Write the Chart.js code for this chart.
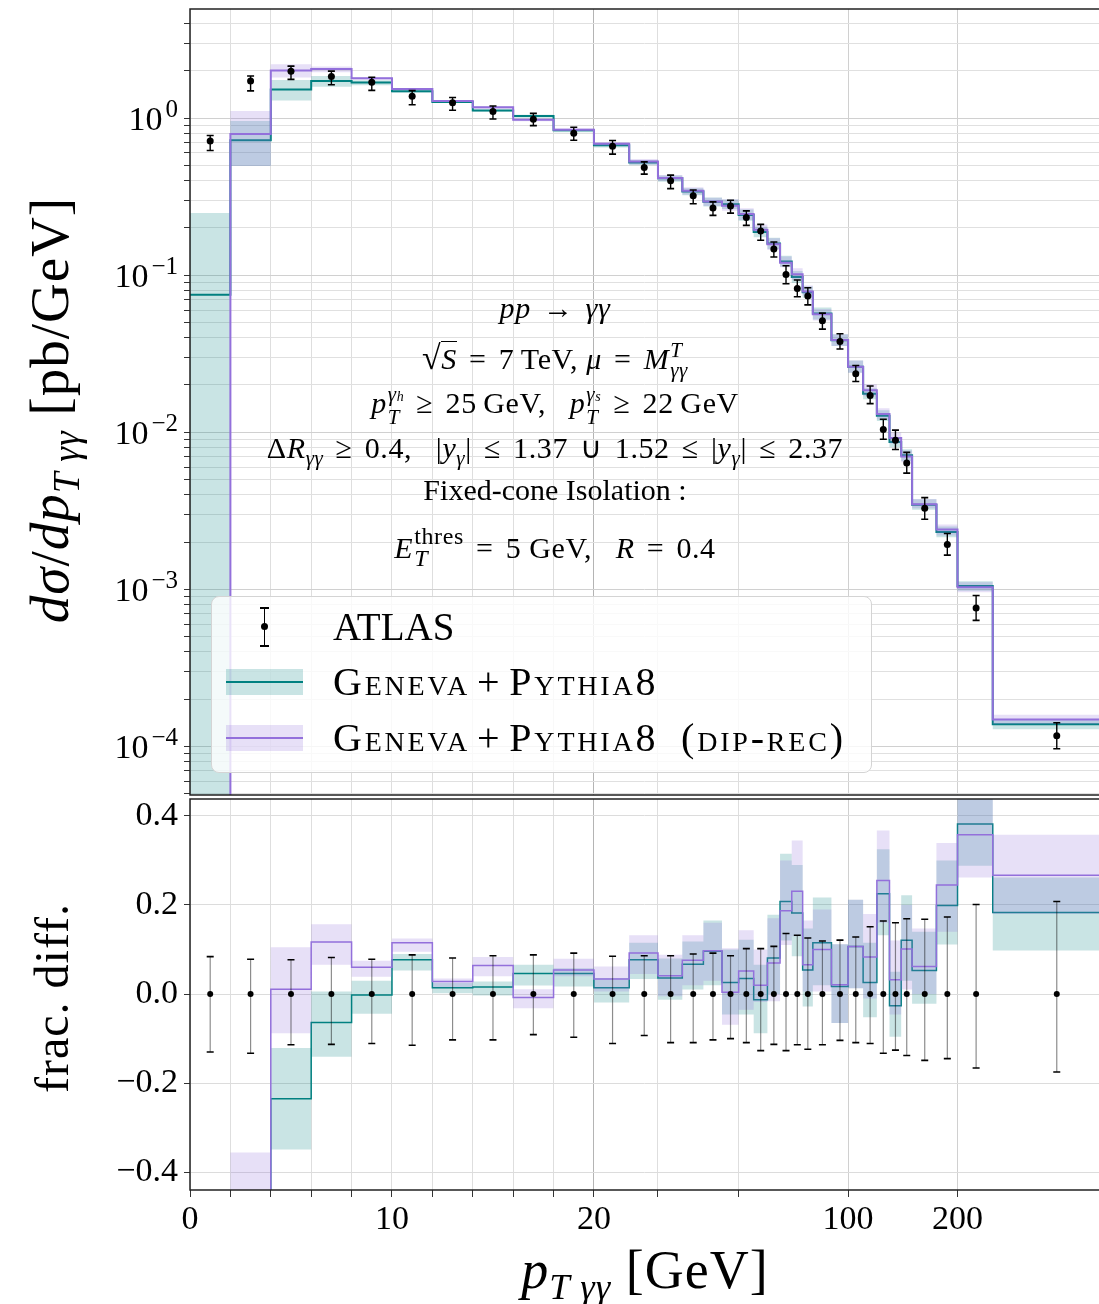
<!DOCTYPE html>
<html>
<head>
<meta charset="utf-8">
<script src="https://cdn.jsdelivr.net/npm/chart.js@4/dist/chart.umd.min.js"></script>
<style>
  html, body { margin: 0; padding: 0; background: #fff; }
  body { width: 1099px; height: 1304px; overflow: hidden; position: relative;
         font-family: 'Liberation Serif', serif; color: #000; }
  canvas { position: absolute; left: 0; }
  #topChart { top: 0; }
  #botChart { top: 797px; }
  .ann { position: absolute; left: 205px; width: 700px; text-align: center;
         font-size: 30px; line-height: 30px; white-space: nowrap; }
  .ann.m { letter-spacing: 0.6px; }
  .ann sub { font-size: 21px; vertical-align: -7px; line-height: 0; }
  .ann .r { padding: 0 4px; }
  .ss { display: inline-flex; flex-direction: column; font-size: 21px; line-height: 20px;
        vertical-align: 12px; margin-left: 1px; text-align: left; }
  .ss small { font-size: 14px; }
  .ovl { border-top: 1.5px solid #000; }
  .sq { font-size: 34px; }
  #legend { position: absolute; left: 211px; top: 596px; width: 659px; height: 175px;
            border: 1px solid #d4d4d4; border-radius: 8px; background: rgba(255,255,255,0.8); }
  #legend .txt { position: absolute; left: 121px; font-size: 39px; line-height: 39px; white-space: nowrap; }
  #legend .sc { font-variant: small-caps; letter-spacing: 2.8px; font-size: 40px; }
  #legend .pl { padding: 0 7px; }
  .sw { position: absolute; left: 14px; width: 77px; height: 26px; }
  .swl { position: absolute; left: 0; right: 0; top: 12px; height: 2px; }
  .eb { position: absolute; background: #000; }
  .title { position: absolute; white-space: nowrap; text-align: center; letter-spacing: 1px; }
  .rot { width: 600px; height: 70px; line-height: 70px; transform: rotate(-90deg); }
  .title sub { font-size: 0.68em; vertical-align: -0.3em; line-height: 0; }
</style>
</head>
<body>
<canvas id="topChart" width="1099" height="797"></canvas>
<canvas id="botChart" width="1099" height="507"></canvas>

<div class="ann m" style="top:293px"><i>pp</i> <span class="r">→</span> <i>γγ</i></div>
<div class="ann m" style="top:340px"><span class="sq">√</span><span class="ovl"><i>S</i></span> <span class="r">=</span> 7&thinsp;TeV, <i>μ</i> <span class="r">=</span> <i>M</i><span class="ss"><i>T</i><i>γγ</i></span></div>
<div class="ann m" style="top:384px"><i>p</i><span class="ss"><i>γ<small>h</small></i><i>T</i></span> <span class="r">≥</span> 25&thinsp;GeV,&ensp; <i>p</i><span class="ss"><i>γ<small>s</small></i><i>T</i></span> <span class="r">≥</span> 22&thinsp;GeV</div>
<div class="ann m" style="top:433px">Δ<i>R</i><sub><i>γγ</i></sub> <span class="r">≥</span> 0.4,&ensp; |<i>y</i><sub><i>γ</i></sub>| <span class="r">≤</span> 1.37 <span class="r">∪</span> 1.52 <span class="r">≤</span> |<i>y</i><sub><i>γ</i></sub>| <span class="r">≤</span> 2.37</div>
<div class="ann" style="top:475px">Fixed-cone Isolation :</div>
<div class="ann m" style="top:525px"><i>E</i><span class="ss" style="font-size:24px;line-height:22px;vertical-align:14px"><span>thres</span><i>T</i></span> <span class="r">=</span> 5 GeV,&ensp; <i>R</i> <span class="r">=</span> 0.4</div>

<div id="legend">
  <div class="eb" style="left:52px; top:10px; width:1px; height:39px"></div>
  <div class="eb" style="left:48px; top:10px; width:9px; height:2px"></div>
  <div class="eb" style="left:48px; top:48px; width:9px; height:2px"></div>
  <div class="eb" style="left:49px; top:26px; width:7px; height:7px; border-radius:50%"></div>
  <div class="txt" style="top:10px">ATLAS</div>
  <div class="sw" id="swGeneva" style="top:72px"><div class="swl"></div></div>
  <div class="txt sc" style="top:65px">Geneva<span class="pl">+</span>Pythia8</div>
  <div class="sw" id="swDip" style="top:128px"><div class="swl"></div></div>
  <div class="txt sc" style="top:121px">Geneva<span class="pl">+</span>Pythia8&ensp;(dip-rec)</div>
</div>

<div class="title rot" style="left:-250px; top:375px; font-size:55px"><i>dσ</i>/<i>dp</i><sub><i>T γγ</i></sub> [pb/GeV]</div>
<div class="title rot" style="left:-248px; top:963px; font-size:48px">frac. diff.</div>
<div class="title" style="left:345px; width:600px; top:1243px; font-size:54px; line-height:54px"><i>p</i><sub><i>T γγ</i></sub> [GeV]</div>

<script>
// bin edges of p_T,γγ [GeV]
const edges = [0, 2, 4, 6, 8, 10, 12, 14, 16, 18, 20, 25, 30, 35, 40, 45, 50, 55, 60, 65, 70, 75, 80,
               90, 100, 110, 120, 130, 140, 150, 175, 200, 250, 500];

// ATLAS data [pb/GeV] and relative errors
const atlas = [0.714, 1.72, 1.99, 1.84, 1.69, 1.375, 1.25, 1.10, 0.985, 0.80,
               0.663, 0.485, 0.399, 0.320, 0.268, 0.276, 0.233, 0.191, 0.147, 0.101, 0.0823, 0.0738, 0.0512, 0.0378,
               0.0236, 0.0171, 0.0104, 0.00889, 0.00637,
               0.00328, 0.00193, 0.00076, 0.000117];
const errUp = [0.084, 0.078, 0.077, 0.082, 0.078, 0.088, 0.081, 0.086, 0.088, 0.092,
               0.085, 0.086, 0.086, 0.090, 0.092, 0.086, 0.102, 0.102, 0.107, 0.136, 0.132, 0.126, 0.119, 0.121,
               0.128, 0.151, 0.164, 0.160, 0.169,
               0.168, 0.173, 0.201, 0.208];
const errDn = [0.130, 0.133, 0.114, 0.113, 0.111, 0.115, 0.103, 0.103, 0.091, 0.097,
               0.111, 0.093, 0.109, 0.109, 0.103, 0.100, 0.109, 0.127, 0.113, 0.127, 0.114, 0.124, 0.114, 0.104,
               0.109, 0.111, 0.133, 0.126, 0.138,
               0.149, 0.145, 0.166, 0.175];

// Geneva + Pythia8: fractional difference to data (central, band low, band high)
const genevaFrac = [-0.895, -0.58, -0.235, -0.064, -0.002, 0.077, 0.014, 0.016, 0.046, 0.046,
                    0.014, 0.077, 0.036, 0.067, 0.096, 0.026, 0.035, -0.013, 0.081, 0.208, 0.182, 0.054, 0.115, 0.017,
                    0.107, 0.026, 0.225, -0.026, 0.121,
                    0.053, 0.199, 0.382, 0.183];
const genevaLo = [-1, -0.712, -0.349, -0.141, -0.044, 0.053, 0.002, -0.003, 0.019, 0.017,
                  -0.019, 0.034, -0.013, 0.010, 0.020, -0.046, -0.046, -0.088, 0.0, 0.12, 0.085, -0.028, 0.02, -0.065,
                  0.013, -0.052, 0.132, -0.096, 0.03,
                  -0.022, 0.111, 0.288, 0.098];
const genevaHi = [-0.651, -0.442, -0.121, 0.006, 0.030, 0.090, 0.025, 0.028, 0.066, 0.058,
                  0.036, 0.115, 0.080, 0.118, 0.165, 0.100, 0.122, 0.066, 0.178, 0.315, 0.29, 0.147, 0.217, 0.112,
                  0.212, 0.115, 0.325, 0.05, 0.222,
                  0.14, 0.30, 0.48, 0.262];

// Geneva + Pythia8 (dip-rec)
const dipFrac = [-1, -0.54, 0.011, 0.117, 0.060, 0.115, 0.028, 0.064, -0.008, 0.054,
                 0.034, 0.092, 0.041, 0.076, 0.097, 0.004, 0.052, 0.020, 0.070, 0.187, 0.231, 0.066, 0.10, 0.021,
                 0.107, 0.083, 0.255, 0.032, 0.101,
                 0.062, 0.245, 0.358, 0.267];
const dipLo = [-1, -0.712, -0.088, 0.066, 0.039, 0.095, 0.015, 0.040, -0.032, 0.040,
               0.006, 0.045, -0.005, 0.02, 0.03, -0.069, -0.035, -0.018, -0.016, 0.11, 0.13, 0.006, 0.006, -0.065,
               0.013, -0.01, 0.16, -0.046, 0.01,
               0.0, 0.14, 0.262, 0.18];
const dipHi = [-1, -0.356, 0.105, 0.157, 0.075, 0.125, 0.035, 0.083, 0.011, 0.079,
               0.062, 0.132, 0.088, 0.132, 0.16, 0.103, 0.143, 0.10, 0.17, 0.30, 0.345, 0.165, 0.19, 0.112,
               0.212, 0.18, 0.367, 0.12, 0.2,
               0.147, 0.339, 0.46, 0.358];

// ticks
const xTicks = [0, 2, 4, 6, 8, 10, 12, 14, 16, 18, 20, 30, 50, 100, 200];
const xLabelled = [0, 10, 20, 100, 200];
const yDecades = [1e-4, 1e-3, 1e-2, 1e-1, 1];
const yExponents = ['−4', '−3', '−2', '−1', '0'];
const fracTicks = [-0.4, -0.2, 0, 0.2, 0.4];
const fracTickLabels = ['−0.4', '−0.2', '0.0', '0.2', '0.4'];

const TEAL = '#008080';
const TEAL_FILL = 'rgba(0,128,128,0.21)';
const PURPLE = '#9370DB';
const PURPLE_FILL = 'rgba(147,112,219,0.22)';
const LINTHRESH = 20;

Chart.defaults.font.family = '"Liberation Serif", serif';
Chart.defaults.color = '#000';

// symlog x axis: linear up to 20 GeV, logarithmic above
class SymlogScale extends Chart.LinearScale {
  static id = 'symlog';
  static defaults = {};
  fwd(v) {
    const s = 1 / (1 - 1 / 10);
    return v <= LINTHRESH ? v * s : LINTHRESH * (s + Math.log10(v / LINTHRESH));
  }
  inv(u) {
    const s = 1 / (1 - 1 / 10);
    return u <= LINTHRESH * s ? u / s : LINTHRESH * Math.pow(10, u / LINTHRESH - s);
  }
  buildTicks() {
    return xTicks.filter(v => v >= this.min && v <= this.max).map(v => ({ value: v }));
  }
  getPixelForValue(value) {
    if (value === null || value === undefined) return NaN;
    const a = this.fwd(this.min), b = this.fwd(this.max);
    return this.getPixelForDecimal((this.fwd(value) - a) / (b - a));
  }
  getValueForPixel(pixel) {
    const a = this.fwd(this.min), b = this.fwd(this.max);
    return this.inv(a + this.getDecimalForPixel(pixel) * (b - a));
  }
}
Chart.register(SymlogScale);

const centers = atlas.map((_, i) => (edges[i] + edges[i + 1]) / 2);

function stepPoints(vals) {
  const pts = vals.map((v, i) => ({ x: edges[i], y: v }));
  pts.push({ x: edges[edges.length - 1], y: vals[vals.length - 1] });
  return pts;
}
// fractional difference -> cross section
function toXsec(frac) {
  return frac.map((f, i) => Math.max(atlas[i] * (1 + f), 1e-9));
}

function noPad(scale) {
  scale.paddingTop = 0; scale.paddingBottom = 0;
  scale.paddingLeft = 0; scale.paddingRight = 0;
}

const errorBars = {
  id: 'errorBars',
  beforeDatasetDraw(chart, args, opts) {
    if (args.index !== 6) return;
    const { ctx, chartArea: a, scales: { x, y } } = chart;
    ctx.save();
    ctx.beginPath();
    ctx.rect(a.left, a.top, a.right - a.left, a.bottom - a.top);
    ctx.clip();
    centers.forEach((c, i) => {
      const px = x.getPixelForValue(c);
      const hi = opts.ratio ? errUp[i] : atlas[i] * (1 + errUp[i]);
      const lo = opts.ratio ? -errDn[i] : atlas[i] * (1 - errDn[i]);
      const yh = y.getPixelForValue(hi), yl = y.getPixelForValue(lo);
      ctx.strokeStyle = opts.barColor;
      ctx.lineWidth = opts.barWidth;
      ctx.beginPath();
      ctx.moveTo(px, yh); ctx.lineTo(px, yl);
      ctx.stroke();
      ctx.strokeStyle = '#000';
      ctx.lineWidth = 1.6;
      ctx.beginPath();
      ctx.moveTo(px - 3.5, yh); ctx.lineTo(px + 3.5, yh);
      ctx.moveTo(px - 3.5, yl); ctx.lineTo(px + 3.5, yl);
      ctx.stroke();
    });
    ctx.restore();
  }
};

const frame = {
  id: 'frame',
  afterDatasetsDraw(chart) {
    const { ctx, chartArea: a } = chart;
    ctx.save();
    ctx.strokeStyle = '#222';
    ctx.lineWidth = 1.5;
    ctx.beginPath();
    ctx.moveTo(a.right + 2, a.top); ctx.lineTo(a.left, a.top);
    ctx.lineTo(a.left, a.bottom); ctx.lineTo(a.right + 2, a.bottom);
    ctx.stroke();
    ctx.restore();
  }
};

const decadeLabels = {
  id: 'decadeLabels',
  afterDraw(chart) {
    const { ctx, scales: { y } } = chart;
    ctx.save();
    ctx.fillStyle = '#000';
    ctx.textAlign = 'right';
    ctx.textBaseline = 'alphabetic';
    yDecades.forEach((v, i) => {
      const py = y.getPixelForValue(v);
      ctx.font = '25px "Liberation Serif"';
      const ew = ctx.measureText(yExponents[i]).width;
      ctx.fillText(yExponents[i], 178, py - 1);
      ctx.font = '34px "Liberation Serif"';
      ctx.fillText('10', 178 - ew - 3, py + 12);
    });
    ctx.restore();
  }
};

function xGridColor(c) {
  const v = c.tick ? c.tick.value : null;
  if (v === 20) return '#b4b4b4';
  if (v === 100 || v === 200) return '#d0d0d0';
  return '#dedede';
}

function makeDatasets(g, gLo, gHi, d, dLo, dHi, pts, lw, r) {
  return [
    { data: stepPoints(gLo), stepped: true, borderWidth: 0, pointRadius: 0, fill: false, order: 6 },
    { data: stepPoints(gHi), stepped: true, borderWidth: 0, pointRadius: 0, fill: { target: 0 },
      backgroundColor: TEAL_FILL, order: 5 },
    { data: stepPoints(g), stepped: true, borderColor: TEAL, borderWidth: lw, pointRadius: 0, fill: false, order: 4 },
    { data: stepPoints(dLo), stepped: true, borderWidth: 0, pointRadius: 0, fill: false, order: 3 },
    { data: stepPoints(dHi), stepped: true, borderWidth: 0, pointRadius: 0, fill: { target: 3 },
      backgroundColor: PURPLE_FILL, order: 2 },
    { data: stepPoints(d), stepped: true, borderColor: PURPLE, borderWidth: lw, pointRadius: 0, fill: false, order: 1 },
    { data: pts, showLine: false, pointRadius: r, pointBackgroundColor: '#000', pointBorderWidth: 0, order: 0 }
  ];
}

// upper panel: cross section
new Chart(document.getElementById('topChart'), {
  type: 'line',
  data: {
    datasets: makeDatasets(
      toXsec(genevaFrac), toXsec(genevaLo), toXsec(genevaHi),
      toXsec(dipFrac), toXsec(dipLo), toXsec(dipHi),
      centers.map((c, i) => ({ x: c, y: atlas[i] })), 2, 3.5)
  },
  options: {
    responsive: false,
    animation: false,
    events: [],
    layout: { autoPadding: false, padding: { top: 9, left: 0, right: 0, bottom: 0 } },
    plugins: {
      legend: { display: false },
      tooltip: { enabled: false },
      errorBars: { ratio: false, barColor: '#000', barWidth: 1.4 }
    },
    scales: {
      x: {
        type: 'symlog', min: 0, max: 490,
        ticks: { display: false },
        grid: { color: xGridColor, drawTicks: false },
        border: { display: false },
        afterFit(s) { s.height = 2; noPad(s); }
      },
      y: {
        type: 'logarithmic', min: 4.9e-5, max: 4.95,
        afterBuildTicks(s) {
          const t = [];
          for (let e = -5; e <= 0; e++) {
            for (let m = 1; m <= 9; m++) {
              const v = m * Math.pow(10, e);
              if (v >= s.min && v <= s.max) t.push({ value: v });
            }
          }
          s.ticks = t;
        },
        ticks: { callback: () => '', autoSkip: false, font: { size: 2 } },
        grid: {
          color: c => {
            const l = Math.log10(c.tick.value);
            return Math.abs(l - Math.round(l)) < 1e-6 ? '#d0d0d0' : '#e0e0e0';
          },
          tickColor: '#333',
          tickLength: 6
        },
        border: { display: false },
        afterFit(s) { s.width = 190; noPad(s); }
      }
    }
  },
  plugins: [errorBars, frame, decadeLabels]
});

// lower panel: fractional difference
new Chart(document.getElementById('botChart'), {
  type: 'line',
  data: {
    datasets: makeDatasets(
      genevaFrac, genevaLo, genevaHi, dipFrac, dipLo, dipHi,
      centers.map(c => ({ x: c, y: 0 })), 1.5, 3)
  },
  options: {
    responsive: false,
    animation: false,
    events: [],
    layout: { autoPadding: false, padding: { top: 2, left: 0, right: 0, bottom: 0 } },
    plugins: {
      legend: { display: false },
      tooltip: { enabled: false },
      errorBars: { ratio: true, barColor: 'rgba(0,0,0,0.45)', barWidth: 1.2 }
    },
    scales: {
      x: {
        type: 'symlog', min: 0, max: 490,
        ticks: {
          autoSkip: false, maxRotation: 0, padding: 3,
          font: { size: 34 },
          callback: (v) => xLabelled.includes(v) ? String(v) : ''
        },
        grid: { color: xGridColor, tickColor: '#333', tickLength: 7 },
        border: { display: false },
        afterFit(s) { s.height = 114; noPad(s); }
      },
      y: {
        type: 'linear', min: -0.44, max: 0.438,
        afterBuildTicks(s) { s.ticks = fracTicks.map(v => ({ value: v })); },
        ticks: {
          autoSkip: false, padding: 6,
          font: { size: 34 },
          callback: (v, i) => fracTickLabels[i]
        },
        grid: { color: '#dcdcdc', tickColor: '#333', tickLength: 6 },
        border: { display: false },
        afterFit(s) { s.width = 190; noPad(s); }
      }
    }
  },
  plugins: [errorBars, frame]
});

// legend swatches
[['swGeneva', TEAL, TEAL_FILL], ['swDip', PURPLE, PURPLE_FILL]].forEach(([id, line, fill]) => {
  const el = document.getElementById(id);
  el.style.background = fill;
  el.firstElementChild.style.background = line;
});
</script>
</body>
</html>
